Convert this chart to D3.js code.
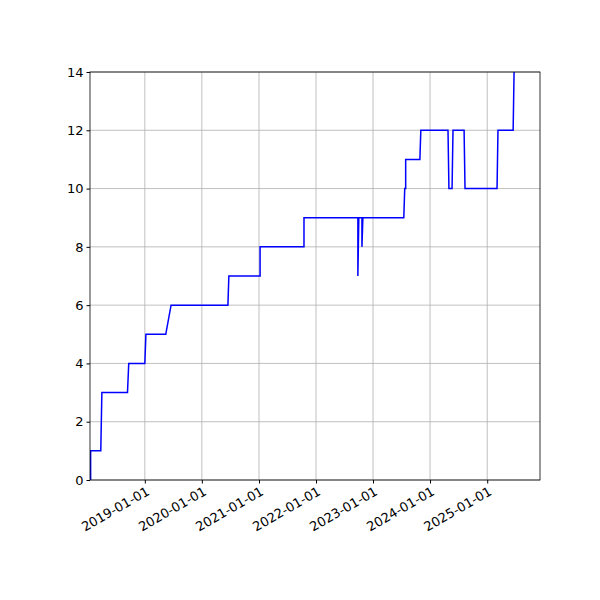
<!DOCTYPE html>
<html><head><meta charset="utf-8">
<script src="https://cdn.jsdelivr.net/npm/d3@7"></script>
<style>body{margin:0;background:#fff}</style></head>
<body><svg id="c" width="600" height="600"></svg>
<script>
const dates = ["2018-01-19","2018-01-19","2018-03-25","2018-04-01","2018-09-12","2018-09-20","2019-01-01","2019-01-08","2019-05-15","2019-06-18","2020-06-16","2020-06-22","2021-01-08","2021-01-08","2021-10-16","2021-10-16","2022-09-26","2022-09-26","2022-10-02","2022-10-22","2022-10-22","2022-10-28","2023-07-17","2023-07-23","2023-07-29","2023-07-29","2023-10-28","2023-11-03","2024-04-25","2024-05-01","2024-05-21","2024-05-27","2024-08-06","2024-08-12","2025-03-05","2025-03-11","2025-06-16","2025-06-22"];
const values = [0,1,1,3,3,4,4,5,5,6,6,7,7,8,8,9,9,7,9,9,8,9,9,10,10,11,11,12,12,10,10,12,12,10,10,12,12,14];
const xTicks = ["2019-01-01","2020-01-01","2021-01-01","2022-01-01","2023-01-01","2024-01-01","2025-01-01"];
const yTicks = [0,2,4,6,8,10,12,14];

const svg = d3.select("#c");
const L=90,R=540,T=72,B=480;
const p = d3.utcParse("%Y-%m-%d");
const x = d3.scaleUtc().domain([p("2018-01-15"),p("2025-12-05")]).range([L,R]);
const y = d3.scaleLinear().domain([0,14]).range([B,T]);

const g = svg.append("g");
g.selectAll(".gx").data(xTicks).join("line").attr("x1",d=>x(p(d))).attr("x2",d=>x(p(d))).attr("y1",T).attr("y2",B).attr("stroke","#b0b0b0").attr("stroke-width",0.8);
g.selectAll(".gy").data(yTicks).join("line").attr("y1",d=>y(d)).attr("y2",d=>y(d)).attr("x1",L).attr("x2",R).attr("stroke","#b0b0b0").attr("stroke-width",0.8);

const pts = dates.map((d,i)=>[p(d),values[i]]);
svg.append("defs").append("clipPath").attr("id","cp").append("rect").attr("x",L).attr("y",T).attr("width",R-L).attr("height",B-T);
svg.append("path").datum(pts).attr("clip-path","url(#cp)").attr("fill","none").attr("stroke","blue").attr("stroke-width",1.5)
  .attr("d",d3.line().x(d=>x(d[0])).y(d=>y(d[1])));

const xa = svg.append("g").attr("transform",`translate(0,${B})`)
  .call(d3.axisBottom(x).tickValues(xTicks.map(p)).tickFormat(d3.utcFormat("%Y-%m-%d")).tickSize(3.5).tickSizeOuter(0));
xa.selectAll("text").attr("text-anchor","end").attr("y",0).attr("dy",0).attr("transform","translate(5,14) rotate(-30)");
const ya = svg.append("g").attr("transform",`translate(${L},0)`)
  .call(d3.axisLeft(y).tickValues(yTicks).tickSize(3.5).tickSizeOuter(0));
svg.selectAll(".tick text").attr("font-family","DejaVu Sans").attr("font-size",13).attr("fill","#000");
svg.selectAll(".domain").remove();
svg.append("rect").attr("x",L).attr("y",T).attr("width",R-L).attr("height",B-T).attr("fill","none").attr("stroke","#000").attr("stroke-width",0.8);
</script></body></html>
